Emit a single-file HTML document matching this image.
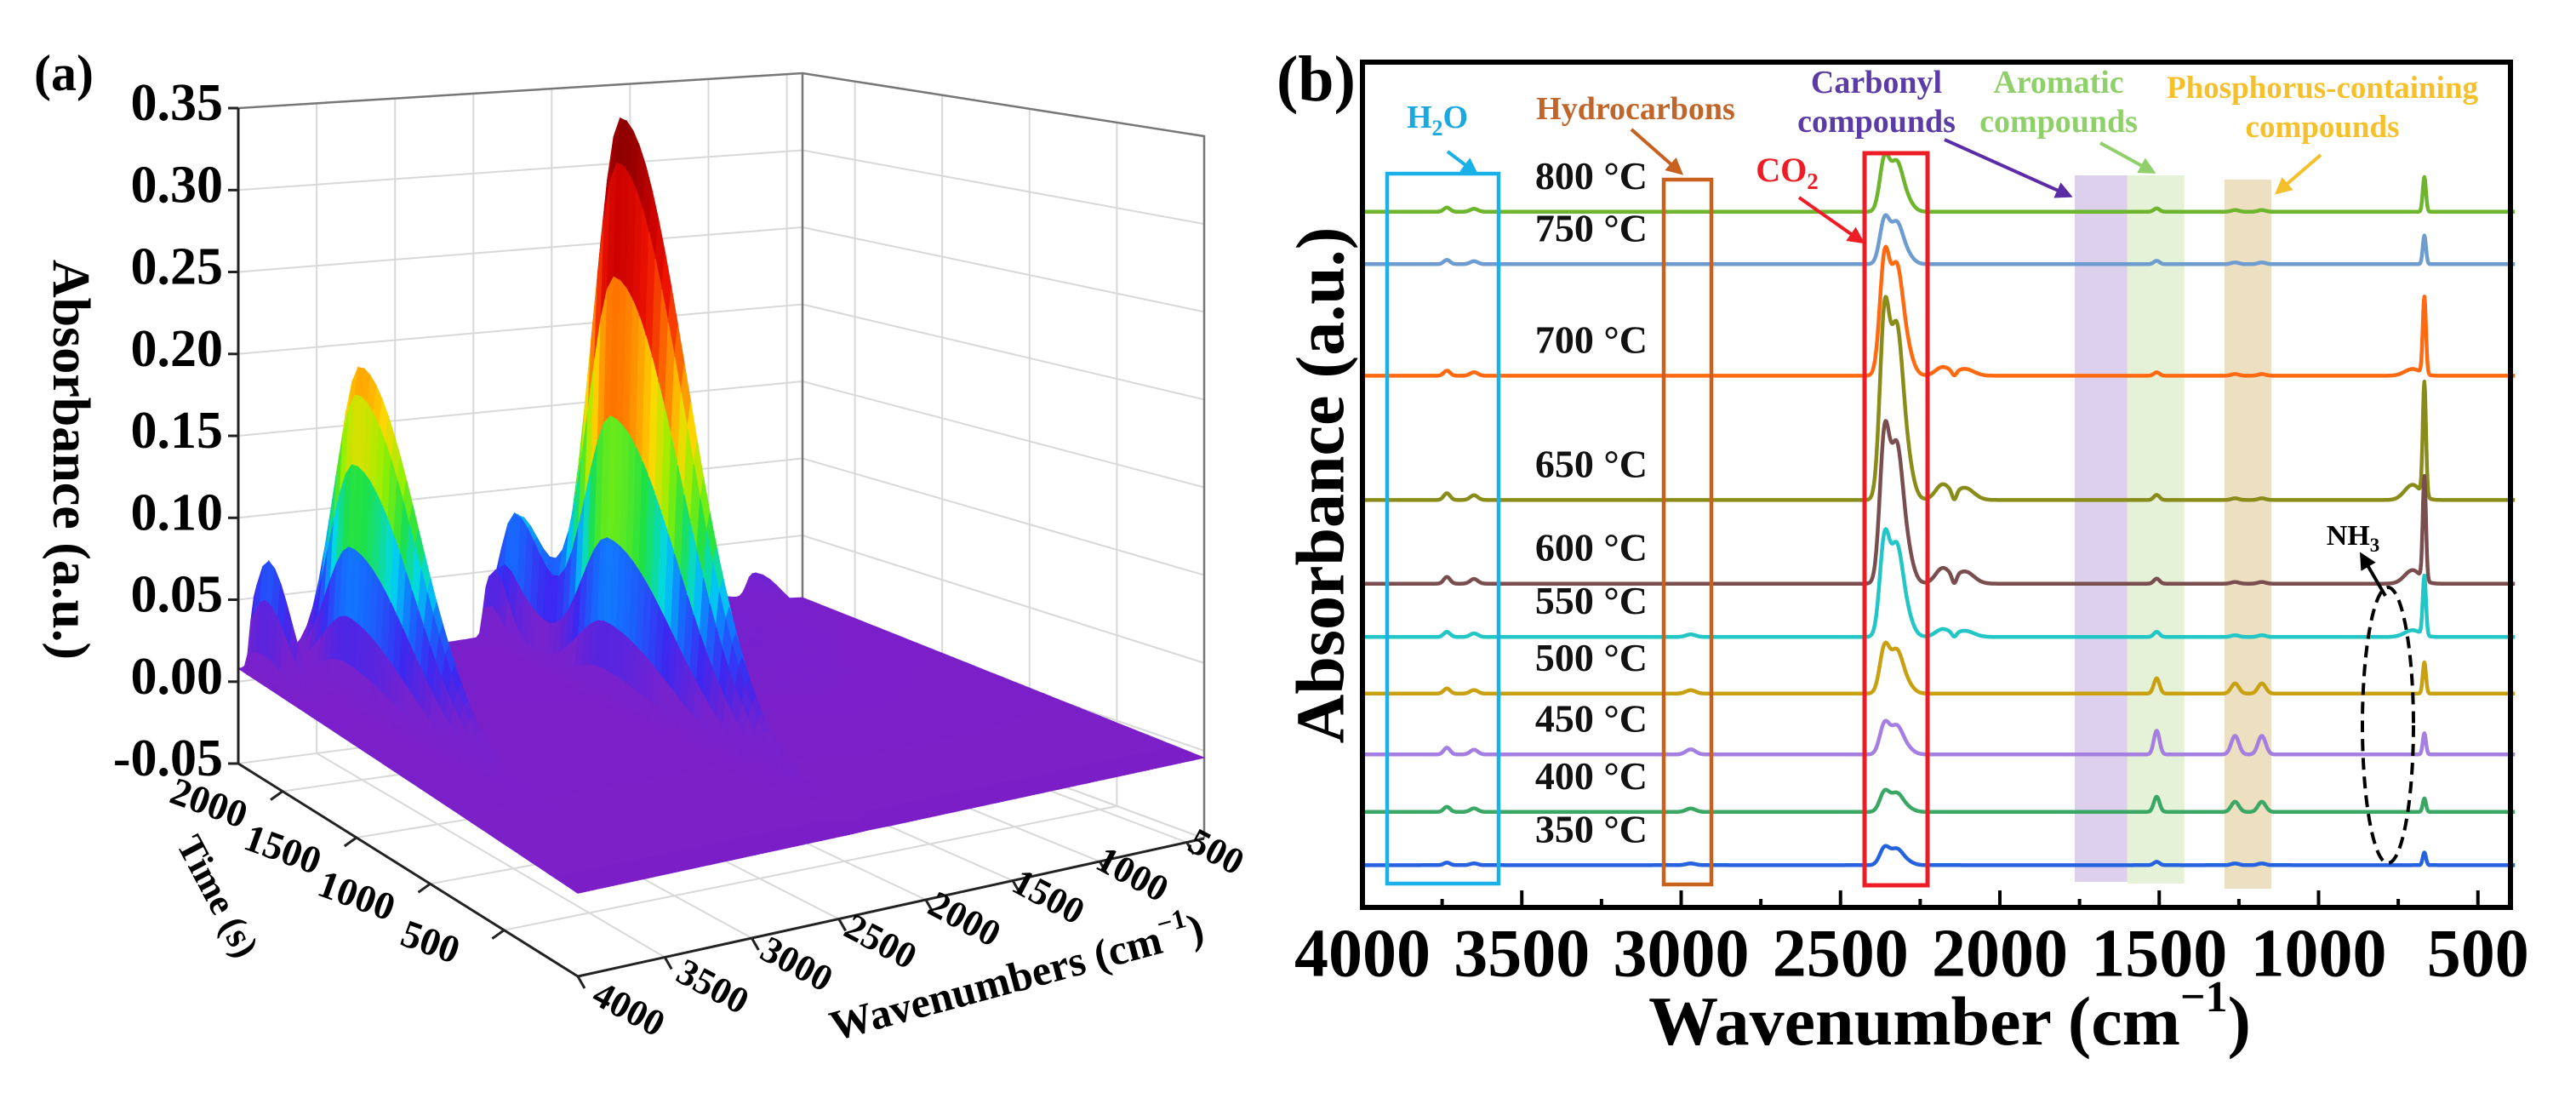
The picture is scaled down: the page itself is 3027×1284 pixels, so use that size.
<!DOCTYPE html>
<html><head><meta charset="utf-8"><style>
html,body{margin:0;padding:0;background:#fff;}
svg{display:block;font-family:"Liberation Serif",serif;}
</style></head><body>
<svg id="fig" xmlns="http://www.w3.org/2000/svg" width="3027" height="1284" viewBox="0 0 3027 1284">
<rect x="0" y="0" width="3027" height="1284" fill="#fff"/>
<g id="panelA">
  <g id="aWalls"></g>
  <g id="aSurf"></g>
  <g id="aAxes"></g>
  <text x="40" y="106" font-size="60" font-weight="bold">(a)</text>
  <text transform="translate(77,540) rotate(90)" text-anchor="middle" dominant-baseline="middle" font-size="62" font-weight="bold">Absorbance (a.u.)</text>
  <text transform="translate(252,1055) rotate(62)" text-anchor="middle" dominant-baseline="middle" font-size="44" font-weight="bold">Time (s)</text>
  <text transform="translate(1196,1153) rotate(-15)" text-anchor="middle" dominant-baseline="middle" font-size="50" font-weight="bold">Wavenumbers (cm<tspan dy="-18" font-size="32">−1</tspan><tspan dy="18">)</tspan></text>
</g>
<g id="panelB">
  <text x="1500" y="118" font-size="76" font-weight="bold">(b)</text>
  <text transform="translate(1560,570) rotate(-90)" text-anchor="middle" dominant-baseline="middle" font-size="80" font-weight="bold">Absorbance (a.u.)</text>
  <g id="bBands"></g>
  <g id="bLines"></g>
  <g id="bAnn"></g>
  <g id="bAxes"></g>
  <text x="2291" y="1208" text-anchor="middle" dominant-baseline="middle" font-size="82" font-weight="bold">Wavenumber (cm<tspan dy="-32" font-size="52">−1</tspan><tspan dy="32">)</tspan></text>
</g>
</svg>
<script>
// ===== Panel (b) data =====
const temps = ["800 °C","750 °C","700 °C","650 °C","600 °C","550 °C","500 °C","450 °C","400 °C","350 °C"];
const offsets = [0.823,0.761,0.629,0.482,0.383,0.320,0.253,0.181,0.113,0.050];
const co2Amp = [0.061,0.051,0.134,0.211,0.169,0.112,0.053,0.035,0.023,0.020];
const nh3Amp = [0.041,0.034,0.091,0.134,0.122,0.070,0.037,0.025,0.016,0.015];
const coAmp = [0.0,0.0,0.010,0.018,0.018,0.009,0.0,0.0,0.0,0.0];
const nh3Broad = [0.0,0.0,0.008,0.018,0.016,0.008,0.0,0.0,0.0,0.0];
const aromAmp = [0.004,0.004,0.004,0.006,0.006,0.006,0.018,0.028,0.018,0.004];
const phosAmp = [0.002,0.002,0.002,0.002,0.002,0.002,0.012,0.022,0.012,0.002];
const h2oAmp = [0.005,0.005,0.006,0.008,0.008,0.006,0.006,0.008,0.006,0.003];
const hcAmp = [0.0,0.0,0.0,0.0,0.0,0.003,0.004,0.006,0.004,0.002];
const lineColors = ["#6cb52c","#6e9bd0","#ff6a10","#8a8c1a","#7a4e4e","#22c6c6","#c8a010","#a47ee0","#3aa864","#2462e0"];
const xTicks = [4000,3500,3000,2500,2000,1500,1000,500];
const bandRanges = [[1765,1600],[1600,1421],[1295,1148]];

// ===== Panel (a) data =====
const zTicks = [-0.05,0.00,0.05,0.10,0.15,0.20,0.25,0.30,0.35];
const tTicks = [500,1000,1500,2000];
const wTicks = [4000,3500,3000,2500,2000,1500,1000,500];
const peakW = [2320,3600,3900,2370,2420,2200,720,1500];
const peakT = [1550,1900,2200,2150,2250,2250,2250,2100];
const peakA = [0.35,0.20,0.07,0.09,0.04,0.035,0.018,0.012];
const peakSw = [50,48,22,22,18,22,35,300];
const peakStFront = [400,380,150,180,80,80,150,500];
const peakStBack = [180,170,100,100,60,60,100,300];

const NS="http://www.w3.org/2000/svg";
function mk(tag, attrs, parent){const e=document.createElementNS(NS,tag);for(const k in attrs)e.setAttribute(k,attrs[k]);parent.appendChild(e);return e;}
function g(x,c,s){return Math.exp(-(x-c)*(x-c)/(2*s*s));}

// ---------- Panel B ----------
const bx0=1601, bx1=2950, by0=73, by1=1066;
function xB(w){return bx0+(4000-w)*0.3745;}
function yB(v){return by1-v*(by1-by0);}
const bBands=document.getElementById('bBands');
const bandCols=["#dcd0ec","#e6f2d8","#ece0c0"];
const bandTops=[206,206,211], bandBots=[1036,1038,1044];
bandRanges.forEach((r,i)=>{
  const el=mk('rect',{x:xB(r[0]),y:bandTops[i],width:xB(r[1])-xB(r[0]),height:bandBots[i]-bandTops[i],fill:bandCols[i]},bBands);
  
  
});
function spec(w,i){
  return co2Amp[i]*(g(w,2362,15)+0.8*g(w,2326,18)+0.3*g(w,2300,22))
   + nh3Amp[i]*g(w,668,5) + nh3Broad[i]*g(w,705,25)
   + coAmp[i]*(g(w,2180,22)+0.8*g(w,2110,28)) - coAmp[i]*0.6*g(w,2143,7)
   + aromAmp[i]*g(w,1508,9) + phosAmp[i]*(g(w,1262,12)+g(w,1178,12))
   + h2oAmp[i]*(g(w,3735,10)+0.7*g(w,3650,12)) + hcAmp[i]*g(w,2970,15);
}
const bLines=document.getElementById('bLines');
temps.forEach((t,i)=>{
  let d="";
  for(let w=4000;w>=383;w-=2){const y=yB(offsets[i]+spec(w,i));d+=(w===4000?"M":"L")+xB(w).toFixed(1)+","+y.toFixed(1);}
  const p=mk('path',{d:d,fill:"none",stroke:lineColors[i],"stroke-width":4.5,"stroke-linejoin":"round"},bLines);
  
  
  const lb=mk('text',{x:1936,y:yB(offsets[i])-27,"text-anchor":"end","font-size":46,"font-weight":"bold",fill:"#111"},bLines);
  lb.textContent=t;
  
  
});
const bAxes=document.getElementById('bAxes');
const fr=mk('rect',{x:bx0,y:by0,width:bx1-bx0,height:by1-by0,fill:"none",stroke:"#000","stroke-width":6},bAxes);


for(let w=3750;w>=400;w-=250){
  const major = w%500===0;
  const tk=mk('line',{x1:xB(w),x2:xB(w),y1:by1,y2:by1-(major?20:10),stroke:"#000","stroke-width":4},bAxes);
  
  
}
xTicks.forEach(w=>{
  const t=mk('text',{x:xB(w),y:1128,"text-anchor":"middle","dominant-baseline":"middle","font-size":80,"font-weight":"bold"},bAxes);
  t.textContent=w;
  
  
});
document.getElementById('bAnn').innerHTML = `
<defs>
 <marker id="arBlue" viewBox="0 0 10 10" refX="8" refY="5" markerWidth="5" markerHeight="5" orient="auto"><path d="M0,0L10,5L0,10z" fill="#1ab0e8"/></marker>
 <marker id="arBrown" viewBox="0 0 10 10" refX="8" refY="5" markerWidth="5" markerHeight="5" orient="auto"><path d="M0,0L10,5L0,10z" fill="#c8601e"/></marker>
 <marker id="arRed" viewBox="0 0 10 10" refX="8" refY="5" markerWidth="5" markerHeight="5" orient="auto"><path d="M0,0L10,5L0,10z" fill="#ee1c24"/></marker>
 <marker id="arPurple" viewBox="0 0 10 10" refX="8" refY="5" markerWidth="5" markerHeight="5" orient="auto"><path d="M0,0L10,5L0,10z" fill="#5b2ca5"/></marker>
 <marker id="arGreen" viewBox="0 0 10 10" refX="8" refY="5" markerWidth="5" markerHeight="5" orient="auto"><path d="M0,0L10,5L0,10z" fill="#8fd06a"/></marker>
 <marker id="arYellow" viewBox="0 0 10 10" refX="8" refY="5" markerWidth="5" markerHeight="5" orient="auto"><path d="M0,0L10,5L0,10z" fill="#f5c02a"/></marker>
 <marker id="arBlack" viewBox="0 0 10 10" refX="8" refY="5" markerWidth="5" markerHeight="5" orient="auto"><path d="M0,0L10,5L0,10z" fill="#000"/></marker>
</defs>
<rect x="1630" y="204" width="131" height="834" fill="none" stroke="#1ab0e8" stroke-width="4.5"/>
<rect x="1955" y="211" width="56" height="828" fill="none" stroke="#c8601e" stroke-width="4.5"/>
<rect x="2191" y="180" width="74" height="860" fill="none" stroke="#ee1c24" stroke-width="5"/>
<text x="1689" y="150" text-anchor="middle" font-size="38" font-weight="bold" fill="#1aa8e0">H<tspan dy="9" font-size="26">2</tspan><tspan dy="-9">O</tspan></text>
<line x1="1701" y1="178" x2="1734" y2="203" stroke="#1ab0e8" stroke-width="4" marker-end="url(#arBlue)"/>
<text x="1922" y="140" text-anchor="middle" font-size="38" font-weight="bold" fill="#c0662a">Hydrocarbons</text>
<line x1="1917" y1="152" x2="1975" y2="203" stroke="#c8601e" stroke-width="4" marker-end="url(#arBrown)"/>
<text x="2100" y="213" text-anchor="middle" font-size="40" font-weight="bold" fill="#ee1c24">CO<tspan dy="9" font-size="27">2</tspan></text>
<line x1="2114" y1="232" x2="2188" y2="284" stroke="#ee1c24" stroke-width="4" marker-end="url(#arRed)"/>
<text x="2205" y="109" text-anchor="middle" font-size="38" font-weight="bold" fill="#5b3ca5">Carbonyl</text>
<text x="2205" y="155" text-anchor="middle" font-size="38" font-weight="bold" fill="#5b3ca5">compounds</text>
<line x1="2285" y1="164" x2="2432" y2="230" stroke="#5b2ca5" stroke-width="4" marker-end="url(#arPurple)"/>
<text x="2419" y="109" text-anchor="middle" font-size="38" font-weight="bold" fill="#8fd06a">Aromatic</text>
<text x="2419" y="155" text-anchor="middle" font-size="38" font-weight="bold" fill="#8fd06a">compounds</text>
<line x1="2468" y1="168" x2="2530" y2="202" stroke="#8fd06a" stroke-width="4" marker-end="url(#arGreen)"/>
<text x="2729" y="115" text-anchor="middle" font-size="37" font-weight="bold" fill="#f5c02a">Phosphorus-containing</text>
<text x="2729" y="161" text-anchor="middle" font-size="37" font-weight="bold" fill="#f5c02a">compounds</text>
<line x1="2727" y1="182" x2="2676" y2="226" stroke="#f5c02a" stroke-width="4" marker-end="url(#arYellow)"/>
<text x="2765" y="640" text-anchor="middle" font-size="34" font-weight="bold" fill="#000">NH<tspan dy="8" font-size="23">3</tspan></text>
<line x1="2803" y1="700" x2="2775" y2="652" stroke="#000" stroke-width="4" marker-end="url(#arBlack)"/>
<ellipse cx="2806" cy="852" rx="30" ry="162" fill="none" stroke="#000" stroke-width="4" stroke-dasharray="14,8"/>
`;

// ---------- Panel A ----------
const F=[679,1147], R=[1415,985], L=[280,897], Bk=[943,810];
const HF=850, HR=825, HL=770, HB=724, TMAX=2300;
function P(w,t,z){
  const u=(4000-w)/3600, v=t/TMAX;
  const a=(1-u)*(1-v), b=u*(1-v), c=(1-u)*v, d=u*v;
  const x=F[0]*a+R[0]*b+L[0]*c+Bk[0]*d;
  const y=F[1]*a+R[1]*b+L[1]*c+Bk[1]*d;
  const H=HF*a+HR*b+HL*c+HB*d;
  return [x, y-(z+0.05)/0.4*H];
}
function surfZ(w,t){
  let z=-0.004 + 0.012*(t/TMAX) + 0.012*g(w,1400,500)*(t/TMAX)*(t/TMAX);
  for(let k=0;k<peakW.length;k++){
    const st = t<peakT[k]?peakStFront[k]:peakStBack[k];
    z+=peakA[k]*g(w,peakW[k],peakSw[k])*g(t,peakT[k],st);
  }
  return z;
}
const cStops=[[-0.02,[128,30,196]],[0.025,[118,34,206]],[0.05,[60,40,240]],[0.075,[20,110,255]],[0.095,[0,215,240]],[0.12,[30,225,70]],[0.15,[150,240,0]],[0.18,[255,215,0]],[0.215,[255,120,0]],[0.26,[238,20,0]],[0.30,[200,0,0]],[0.35,[130,0,0]]];
function col(z){
  if(z<=cStops[0][0])return "rgb("+cStops[0][1].join(",")+")";
  for(let i=1;i<cStops.length;i++){
    if(z<=cStops[i][0]){const f=(z-cStops[i-1][0])/(cStops[i][0]-cStops[i-1][0]);const a=cStops[i-1][1],b=cStops[i][1];
      return "rgb("+[0,1,2].map(k=>Math.round(a[k]+(b[k]-a[k])*f)).join(",")+")";}
  }
  return "rgb("+cStops[cStops.length-1][1].join(",")+")";
}
const aWalls=document.getElementById('aWalls');
function pline(pts,attrs,parent){return mk('polyline',Object.assign({points:pts.map(p=>p[0].toFixed(1)+","+p[1].toFixed(1)).join(" "),fill:"none"},attrs),parent);}
zTicks.forEach(z=>{
  const l1=pline([P(4000,TMAX,z),P(400,TMAX,z),P(400,0,z)],{stroke:"#d8d8d8","stroke-width":2},aWalls);
  
  
});
wTicks.concat([400]).forEach(w=>{
  const l=pline([P(w,0,-0.05),P(w,TMAX,-0.05),P(w,TMAX,0.35)],{stroke:"#d8d8d8","stroke-width":2},aWalls);
  
  
});
tTicks.forEach(t=>{
  const l=pline([P(4000,t,-0.05),P(400,t,-0.05),P(400,t,0.35)],{stroke:"#d8d8d8","stroke-width":2},aWalls);
  
  
});
const edges=[[P(4000,TMAX,-0.05),P(4000,TMAX,0.35),P(400,TMAX,0.35),P(400,0,0.35),P(400,0,-0.05)],[P(400,TMAX,-0.05),P(400,TMAX,0.35)]];
edges.forEach(e=>{
  const l=pline(e,{stroke:"#777","stroke-width":2.5},aWalls);
  
  
});
const aSurf=document.getElementById('aSurf');
const wStep=20, tStep=40;
const cells=[];
for(let w=4000;w>400;w-=wStep){
  for(let t=0;t<TMAX;t+=tStep){
    const w2=Math.max(400,w-wStep),t2=Math.min(TMAX,t+tStep);
    const zs=[surfZ(w,t),surfZ(w2,t),surfZ(w2,t2),surfZ(w,t2)];
    const depth=((4000-w)/3600)+(t/TMAX);
    cells.push({pts:[P(w,t,zs[0]),P(w2,t,zs[1]),P(w2,t2,zs[2]),P(w,t2,zs[3])],z:(zs[0]+zs[1]+zs[2]+zs[3])/4,depth:depth});
  }
}
cells.sort((a,b)=>b.depth-a.depth);
let frag=document.createDocumentFragment();
cells.forEach(c=>{
  const cl=col(c.z);
  const p=document.createElementNS(NS,'polygon');
  p.setAttribute('points',c.pts.map(q=>q[0].toFixed(1)+","+q[1].toFixed(1)).join(" "));
  p.setAttribute('fill',cl);
  p.setAttribute('stroke',cl);
  p.setAttribute('stroke-width','1');
  
  
  frag.appendChild(p);
});
aSurf.appendChild(frag);
const aAxes=document.getElementById('aAxes');
const zAx=pline([P(4000,TMAX,-0.05),P(4000,TMAX,0.35)],{stroke:"#222","stroke-width":3},aAxes);


const tAx=pline([P(4000,0,-0.05),P(4000,TMAX,-0.05)],{stroke:"#222","stroke-width":3},aAxes);


const wAx=pline([P(4000,0,-0.05),P(400,0,-0.05)],{stroke:"#222","stroke-width":3},aAxes);


zTicks.forEach(z=>{
  const p=P(4000,TMAX,z);
  const tk=pline([p,[p[0]-12,p[1]]],{stroke:"#222","stroke-width":3},aAxes);
  
  
  const t=mk('text',{x:p[0]-18,y:p[1],"text-anchor":"end","dominant-baseline":"middle","font-size":62,"font-weight":"bold"},aAxes);
  t.textContent=z.toFixed(2);
  
  
});
tTicks.forEach(tv=>{
  const p=P(4000,tv,-0.05);
  const tk=pline([p,[p[0]-14,p[1]+10]],{stroke:"#222","stroke-width":3},aAxes);
  
  
  const t=mk('text',{transform:"translate("+(p[0]-88).toFixed(1)+","+(p[1]+18).toFixed(1)+") rotate(20)","text-anchor":"middle","dominant-baseline":"middle","font-size":46,"font-weight":"bold"},aAxes);
  t.textContent=tv;
  
  
});
wTicks.forEach(wv=>{
  const p=P(wv,0,-0.05);
  const u=(4000-wv)/3600;
  const tk=pline([p,[p[0]+8,p[1]+14]],{stroke:"#222","stroke-width":3},aAxes);
  
  
  const t=mk('text',{transform:"translate("+(p[0]+58-26*u).toFixed(1)+","+(p[1]+42-28*u).toFixed(1)+") rotate(28)","text-anchor":"middle","dominant-baseline":"middle","font-size":44,"font-weight":"bold"},aAxes);
  t.textContent=wv;
  
  
});
</script>
</body></html>
